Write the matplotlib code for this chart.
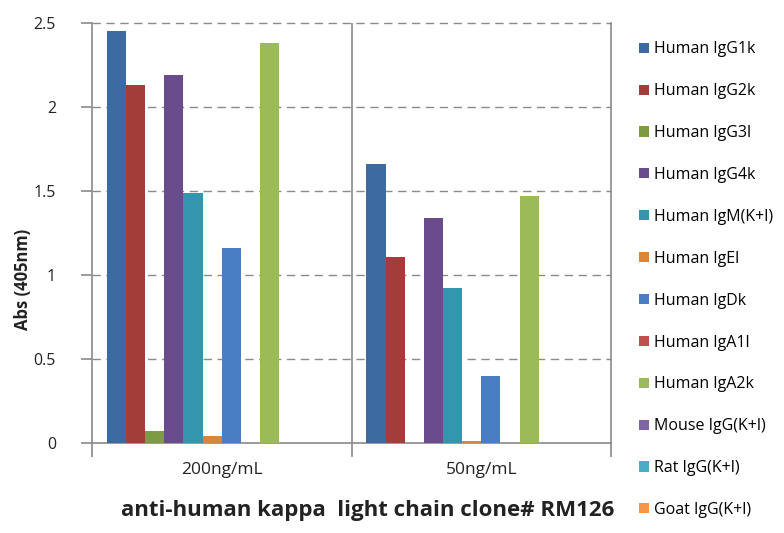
import numpy as np
import matplotlib.pyplot as plt

plt.rcParams['font.family'] = ['Open Sans', 'DejaVu Sans']

# datos
groups = ['200ng/mL', '50ng/mL']
series = ['Human IgG1k', 'Human IgG2k', 'Human IgG3l', 'Human IgG4k', 'Human IgM(K+l)',
          'Human IgEl', 'Human IgDk', 'Human IgA1l', 'Human IgA2k', 'Mouse IgG(K+l)',
          'Rat IgG(K+l)', 'Goat IgG(K+l)']
vals_200 = [2.45, 2.13, 0.07, 2.19, 1.49, 0.04, 1.16, 0.0, 2.38, 0.0, 0.0, 0.0]
vals_50 = [1.66, 1.11, 0.0, 1.34, 0.92, 0.01, 0.40, 0.0, 1.47, 0.0, 0.0, 0.0]
colors = ['#3D6AA1', '#A33D3A', '#7E9A43', '#6A4C8C', '#3396AE', '#D9853B',
          '#4A7EC4', '#C0504D', '#9BBB59', '#8064A2', '#4BACC6', '#F79646']

fig = plt.figure(figsize=(7.84, 5.33), dpi=100)
ax = fig.add_axes([92/784, 1 - 443/533, 519/784, 420/533])

x = np.arange(len(groups))
w = 0.0737
data = np.array([vals_200, vals_50])
for i, name in enumerate(series):
    ax.bar(x + (i - 5.5) * w, data[:, i], width=w, color=colors[i], label=name, zorder=3)

ax.set_xlim(-0.5, 1.5)
ax.set_ylim(0, 2.5)
ax.set_yticks([0, 0.5, 1, 1.5, 2, 2.5])
ax.set_yticklabels(['0', '0.5', '1', '1.5', '2', '2.5'])
for yv in [0.5, 1, 1.5, 2, 2.5]:
    ax.axhline(yv, color='#8a8a8a', lw=1, ls=(0, (6, 4)), zorder=1, clip_on=False)
ax.axvline(0.5, color='#8a8a8a', lw=1.2, zorder=2)

ax.set_xticks(x)
ax.set_xticklabels(groups)
ax.set_xticks([-0.5, 0.5, 1.5], minor=True)
ax.tick_params(axis='x', which='major', length=0, pad=14, labelsize=12.5, colors='#222222')
ax.tick_params(axis='x', which='minor', length=10, color='#8a8a8a', width=1.2)
ax.tick_params(axis='y', length=8, color='#8a8a8a', width=1.2, pad=18, labelsize=11.5,
               labelcolor='#222222')

ax.spines['top'].set_visible(False)
for s in ['left', 'right', 'bottom']:
    ax.spines[s].set_color('#8a8a8a')
    ax.spines[s].set_linewidth(1.2)

ax.set_ylabel('Abs (405nm)', fontsize=12, fontweight='bold', color='#222222')
ax.yaxis.set_label_coords(-0.115, 0.39)
ax.set_xlabel('anti-human kappa  light chain clone# RM126', fontsize=16,
              fontweight='bold', color='#222222')
ax.xaxis.set_label_coords(0.532, -0.135)

ax.legend(loc='upper left', bbox_to_anchor=(633/784, 1 - 35/533),
          bbox_transform=fig.transFigure, frameon=False, fontsize=11.5,
          handlelength=0.6, handleheight=0.6, handletextpad=0.3,
          labelspacing=1.62, borderaxespad=0)

fig.savefig('out.png', dpi=100)
